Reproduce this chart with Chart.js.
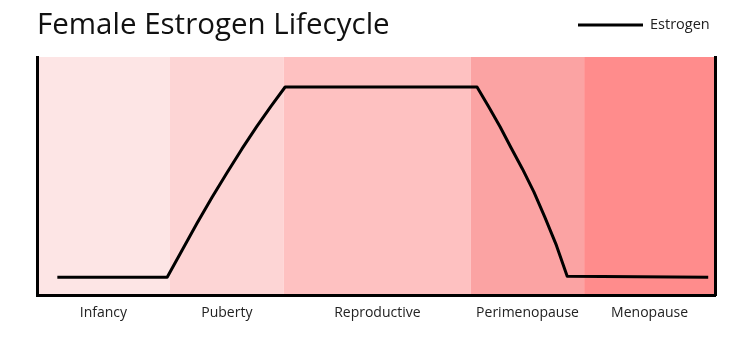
<!DOCTYPE html>
<html>
<head>
<meta charset="utf-8">
<script src="https://cdn.jsdelivr.net/npm/chart.js@4"></script>
<style>
  html, body { margin: 0; padding: 0; background: #fff; }
  #wrap { width: 750px; height: 340px; }
</style>
</head>
<body>
<div id="wrap"><canvas id="grafica" width="750" height="340"></canvas></div>
<script>
// fases de la vida (bandas de fondo)
var fases = ["Infancy", "Puberty", "Reproductive", "Perimenopause", "Menopause"];
var limites = [0, 19.6, 36.4, 64, 80.7, 100];
var colores = ["#fde5e5", "#fdd5d5", "#fec1c1", "#fba3a3", "#ff8c8c"];

// curva de estrogeno (x = posicion en la vida, y = nivel)
var edad = [3, 19.2, 21.4, 23.6, 25.8, 28, 30.2, 32.4, 34.5, 36.6,
            64.9, 66.6, 68.3, 69.9, 71.6, 73.3, 74.9, 76.6, 78.2, 99];
var estrogeno = [7.5, 7.5, 18.9, 30.2, 41, 51.3, 61.3, 70.8, 79.3, 87.4,
                 87.4, 79.2, 70.7, 62, 53, 43.3, 32.8, 21, 8, 7.5];

var centros = [];
for (var i = 0; i < fases.length; i++) {
  centros.push((limites[i] + limites[i + 1]) / 2);
}

var puntos = [];
for (var j = 0; j < edad.length; j++) {
  puntos.push({ x: edad[j], y: estrogeno[j] });
}

const fuente = "'Open Sans', 'DejaVu Sans', sans-serif";

// pinta las bandas de color detras de todo
const bandas = {
  id: "bandas",
  beforeDraw(chart) {
    const ctx = chart.ctx;
    const xs = chart.scales.x;
    const area = chart.chartArea;
    ctx.save();
    for (var k = 0; k < fases.length; k++) {
      const x0 = xs.getPixelForValue(limites[k]);
      const x1 = xs.getPixelForValue(limites[k + 1]);
      ctx.fillStyle = colores[k];
      ctx.fillRect(x0, area.top, x1 - x0, area.bottom - area.top);
    }
    ctx.restore();
  }
};

// leyenda en la misma linea que el titulo
const leyenda = {
  id: "leyenda",
  afterDraw(chart) {
    const ctx = chart.ctx;
    const ds = chart.data.datasets[0];
    ctx.save();
    ctx.strokeStyle = ds.borderColor;
    ctx.lineWidth = 3;
    ctx.beginPath();
    ctx.moveTo(578, 25);
    ctx.lineTo(643, 25);
    ctx.stroke();
    ctx.fillStyle = "#222";
    ctx.font = "14.5px " + fuente;
    ctx.textBaseline = "middle";
    ctx.textAlign = "left";
    ctx.fillText(ds.label, 650, 25);
    ctx.restore();
  }
};

var ctx = document.getElementById("grafica").getContext("2d");
var miGrafica = new Chart(ctx, {
  type: "line",
  data: {
    datasets: [{
      label: "Estrogen",
      data: puntos,
      borderColor: "#000",
      borderWidth: 3,
      borderJoinStyle: "round",
      pointRadius: 0,
      tension: 0,
      fill: false
    }]
  },
  options: {
    responsive: false,
    animation: false,
    layout: { padding: { left: 37, right: 35, top: 0, bottom: 10 } },
    plugins: {
      legend: { display: false },
      tooltip: { enabled: false },
      title: {
        display: true,
        text: "Female Estrogen Lifecycle",
        align: "start",
        color: "#111",
        font: { family: fuente, size: 29.5, weight: "normal", lineHeight: 1.2 },
        padding: { top: 8, bottom: 13.6 }
      }
    },
    scales: {
      x: {
        type: "linear",
        min: 0,
        max: 100,
        grid: { display: false, drawTicks: false },
        border: { display: true, color: "#000", width: 3 },
        afterBuildTicks: function (eje) {
          eje.ticks = centros.map(function (v) { return { value: v }; });
        },
        ticks: {
          autoSkip: false,
          maxRotation: 0,
          padding: 9,
          color: "#222",
          font: { family: fuente, size: 14 },
          callback: function (valor, indice) { return fases[indice]; }
        }
      },
      y: {
        min: 0,
        max: 100,
        grid: { display: false, drawTicks: false },
        border: { display: true, color: "#000", width: 3 },
        ticks: { display: false }
      },
      y2: {
        position: "right",
        min: 0,
        max: 100,
        grid: { display: false, drawTicks: false },
        border: { display: true, color: "#000", width: 3 },
        ticks: { display: false }
      }
    }
  },
  plugins: [bandas, leyenda]
});
</script>
</body>
</html>
